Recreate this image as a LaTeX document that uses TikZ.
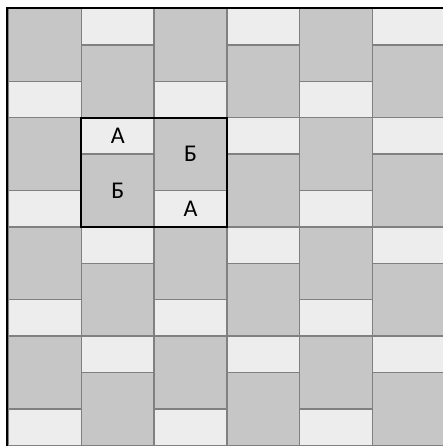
\documentclass[tikz,border=0pt]{standalone}
\usepackage{fontspec}
\setmainfont{Carlito}
\definecolor{tilegray}{RGB}{198,198,198}
\definecolor{tilelight}{RGB}{237,237,237}
\definecolor{tileedge}{RGB}{128,128,128}
\begin{document}
\begin{tikzpicture}[x=1pt,y=-1pt,
  sq/.style={fill=tilegray,draw=tileedge,line width=1.5pt},
  half/.style={fill=tilelight,draw=tileedge,line width=1.5pt},
  lbl/.style={font=\fontsize{24}{24}\selectfont,inner sep=0pt}]
\useasboundingbox (0,0) rectangle (443,446);
\clip (0,0) rectangle (443,446);
\fill[white] (0,0) rectangle (443,446);
% columns 0,2,4: square on top, half below
\foreach \c in {0,2,4}{
  \foreach \k in {0,...,4}{
    \path[sq] ({8.5+72.8*\c},{8.5+109.2*\k}) rectangle +(72.8,72.8);
    \path[half] ({8.5+72.8*\c},{81.3+109.2*\k}) rectangle +(72.8,36.4);
  }
}
% columns 1,3,5: half on top, square below
\foreach \c in {1,3,5}{
  \foreach \k in {0,...,4}{
    \path[half] ({8.5+72.8*\c},{8.5+109.2*\k}) rectangle +(72.8,36.4);
    \path[sq] ({8.5+72.8*\c},{44.9+109.2*\k}) rectangle +(72.8,72.8);
  }
}
% outer frame (cropped at right and bottom)
\draw[line width=2.5pt] (7,8) rectangle (470,470);
% highlighted group
\draw[line width=2pt] (81.3,117.7) rectangle (226.9,226.9);
\node[lbl] (a1) at (117.7,135.9) {А};
\node[lbl] (b1) at (117.7,190.5) {Б};
\node[lbl] (b2) at (190.5,154.1) {Б};
\node[lbl] (a2) at (190.5,208.7) {А};
\end{tikzpicture}
\end{document}
